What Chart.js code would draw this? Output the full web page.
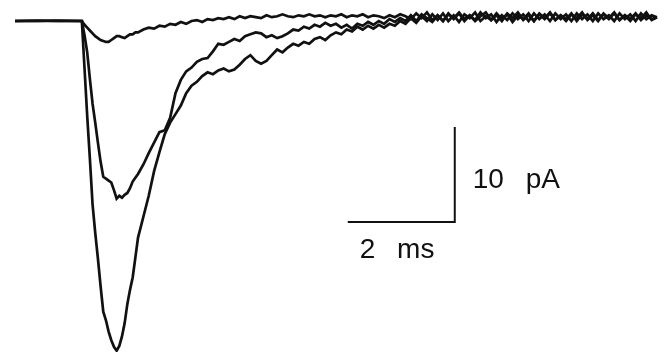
<!DOCTYPE html>
<html>
<head>
<meta charset="utf-8">
<script src="https://cdn.jsdelivr.net/npm/chart.js@4.4.1/dist/chart.umd.min.js"></script>
<style>
  html, body { margin: 0; padding: 0; background: #fff; }
  #wrap { width: 670px; height: 352px; }
</style>
</head>
<body>
<div id="wrap"><canvas id="traces" width="670" height="352"></canvas></div>
<script>
// time in ms, current in pA
const timeMs = [
  0, 0.4, 0.8, 1.25,
  1.30, 1.35, 1.40, 1.45, 1.50, 1.55, 1.60, 1.65, 1.70, 1.75,
  1.80, 1.85, 1.90, 1.95, 2.00, 2.05, 2.10, 2.15, 2.20, 2.25, 2.30,
  2.4, 2.5, 2.6, 2.7, 2.8, 2.9, 3.0, 3.1, 3.2, 3.3,
  3.4, 3.5, 3.6, 3.7, 3.8, 3.9, 4.0, 4.1, 4.2, 4.3,
  4.4, 4.5, 4.6, 4.7, 4.8, 4.9, 5.0, 5.1, 5.2, 5.3,
  5.4, 5.5, 5.6, 5.7, 5.8, 5.9, 6.0, 6.1, 6.2, 6.3,
  6.4, 6.5, 6.6, 6.7, 6.8, 6.9, 7.0, 7.1, 7.2, 7.3,
  7.4, 7.5, 7.6, 7.7, 7.8, 7.9, 8.0, 8.1, 8.2, 8.3,
  8.4, 8.5, 8.6, 8.7, 8.8, 8.9, 9.0, 9.1, 9.2, 9.3,
  9.4, 9.5, 9.6, 9.7, 9.8, 9.9, 10.0, 10.1, 10.2, 10.3,
  10.4, 10.5, 10.6, 10.7, 10.8, 10.9, 11.0, 11.1, 11.2, 11.3,
  11.4, 11.5, 11.6, 11.7, 11.8, 11.9, 12.0
];

// largest response
const currentLarge = [
  0, 0.05, 0, 0,
  -5.0, -10.0, -14.5, -19.3, -22.3, -25.0, -27.9, -30.6, -31.5, -32.7,
  -33.6, -34.3, -34.7, -34.2, -33.2, -31.8, -29.8, -28.3, -27.0, -24.9, -22.8,
  -20.6, -18.4, -15.8, -13.8, -11.9, -10.7, -9.8, -8.9, -7.6, -6.8,
  -6.4, -5.8, -5.4, -5.6, -5.2, -5.0, -5.3, -5.1, -4.6, -4.0,
  -3.6, -4.2, -4.5, -4.2, -3.6, -3.0, -3.3, -2.8, -2.4, -2.6,
  -2.2, -2.4, -1.9, -1.7, -2.0, -1.5, -1.2, -1.4, -0.9, -1.1,
  -0.6, -0.9, -0.5, -0.8, -0.4, -0.7, -0.3, -0.5, 0.0, -0.3,
  0.3, -0.2, 0.5, 0.0, 0.7, 0.1, 0.8, 0.0, 0.6, -0.1,
  0.7, 0.3, 0.9, 0.0, 0.5, 0.1, 0.8, 0.2, 0.7, -0.1,
  0.6, 0.2, 0.8, 0.0, 0.7, 0.2, 0.8, 0.1, 0.6, 0.2,
  0.8, 0.0, 0.7, 0.2, 0.8, 0.1, 0.7, 0.2, 0.8, 0.1,
  0.6, 0.2, 0.8, 0.1, 0.6, 0.2, 0.4
];

// intermediate response
const currentMedium = [
  0, 0, 0.05, 0,
  -1.5, -3.3, -6.1, -8.7, -10.7, -12.8, -14.8, -16.4, -16.6, -16.8,
  -17.0, -17.8, -18.7, -18.4, -18.6, -18.3, -18.1, -17.6, -16.9, -16.5, -16.1,
  -15.1, -13.9, -12.8, -11.7, -11.5, -10.2, -7.6, -6.2, -5.3, -4.9,
  -4.3, -4.0, -3.9, -3.2, -2.4, -2.5, -2.2, -1.9, -2.1, -1.6,
  -1.4, -1.2, -1.3, -1.7, -1.5, -1.8, -1.6, -1.3, -0.9, -1.0,
  -0.6, -0.8, -0.4, -0.6, -0.2, -0.5, -0.3, -0.7, -0.4, -0.8,
  -0.3, -0.5, -0.1, -0.4, 0.0, -0.3, 0.2, -0.1, 0.3, 0.0,
  0.6, 0.0, 0.7, 0.3, -0.1, 0.6, 0.0, 0.8, 0.2, 0.8,
  0.0, 0.6, 0.1, 0.9, 0.3, 0.7, -0.1, 0.6, 0.1, 0.8,
  0.2, 0.7, 0.0, 0.8, 0.2, 0.7, 0.0, 0.8, 0.2, 0.7,
  0.0, 0.8, 0.2, 0.7, 0.0, 0.8, 0.2, 0.6, 0.0, 0.8,
  0.2, 0.7, 0.0, 0.8, 0.2, 0.6, 0.4
];

// smallest response
const currentSmall = [
  0, 0, 0, 0,
  -0.4, -0.7, -1.0, -1.3, -1.6, -1.8, -2.0, -2.1, -2.2, -2.2,
  -2.0, -1.8, -1.6, -1.6, -1.7, -1.8, -1.6, -1.4, -1.4, -1.2, -1.2,
  -0.9, -0.7, -0.8, -0.5, -0.6, -0.3, -0.4, -0.1, -0.3, 0.0,
  0.1, -0.1, 0.2, 0.1, 0.3, 0.2, 0.4, 0.2, 0.5, 0.3,
  0.5, 0.4, 0.3, 0.6, 0.4, 0.5, 0.7, 0.5, 0.4, 0.6,
  0.5, 0.7, 0.5, 0.6, 0.4, 0.6, 0.5, 0.7, 0.4, 0.6,
  0.5, 0.7, 0.4, 0.6, 0.5, 0.3, 0.6, 0.4, 0.7, 0.5,
  0.2, 0.8, 0.3, 0.9, 0.1, 0.6, 0.0, 0.7, 0.3, 0.9,
  0.2, 0.6, 0.0, 0.5, 0.9, 0.1, 0.6, 0.0, 0.8, 0.3,
  0.9, 0.1, 0.6, 0.0, 0.8, 0.3, 0.9, 0.1, 0.6, 0.0,
  0.7, 0.3, 0.9, 0.1, 0.6, 0.0, 0.8, 0.3, 0.9, 0.1,
  0.6, 0.0, 0.7, 0.3, 0.9, 0.1, 0.4
];

// calibration bar: corner at (barCornerMs, barBottomPA)
const barLengthMs = 2;
const barHeightPA = 10;
const barCornerMs = 8.22;
const barBottomPA = -21.16;
const barLabels = ['10 pA', '2 ms'];

const toPoints = (ys) => ys.map((y, i) => ({ x: timeMs[i], y: y }));

const traceStyle = {
  borderColor: '#111',
  borderWidth: 2.7,
  pointRadius: 0,
  tension: 0,
  fill: false,
  clip: false
};

// labels next to the calibration bar
const barText = {
  id: 'barText',
  afterDatasetsDraw(chart) {
    const { ctx, scales: { x, y } } = chart;
    const cx = x.getPixelForValue(barCornerMs);
    const left = x.getPixelForValue(barCornerMs - barLengthMs);
    const bottom = y.getPixelForValue(barBottomPA);
    const top = y.getPixelForValue(barBottomPA + barHeightPA);
    ctx.save();
    ctx.fillStyle = '#111';
    ctx.font = '28px "Liberation Sans", Arial, sans-serif';
    ctx.textBaseline = 'alphabetic';
    ctx.textAlign = 'left';
    if ('wordSpacing' in ctx) ctx.wordSpacing = '14px';
    ctx.fillText(barLabels[0], cx + 18, (top + bottom) / 2 + 13);
    ctx.fillText(barLabels[1], left + 12, bottom + 36);
    ctx.restore();
  }
};

new Chart(document.getElementById('traces'), {
  type: 'line',
  data: {
    datasets: [
      { ...traceStyle, data: toPoints(currentSmall) },
      { ...traceStyle, data: toPoints(currentMedium) },
      { ...traceStyle, data: toPoints(currentLarge) },
      {
        borderColor: '#111',
        borderWidth: 2,
        pointRadius: 0,
        tension: 0,
        clip: false,
        data: [
          { x: barCornerMs - barLengthMs, y: barBottomPA },
          { x: barCornerMs, y: barBottomPA },
          { x: barCornerMs, y: barBottomPA + barHeightPA }
        ]
      }
    ]
  },
  options: {
    responsive: false,
    animation: false,
    layout: { padding: 0 },
    plugins: { legend: { display: false }, tooltip: { enabled: false } },
    scales: {
      x: { type: 'linear', display: false, min: -0.28, max: 12.243 },
      y: { type: 'linear', display: false, min: -34.84, max: 2.21 }
    }
  },
  plugins: [barText]
});
</script>
</body>
</html>
